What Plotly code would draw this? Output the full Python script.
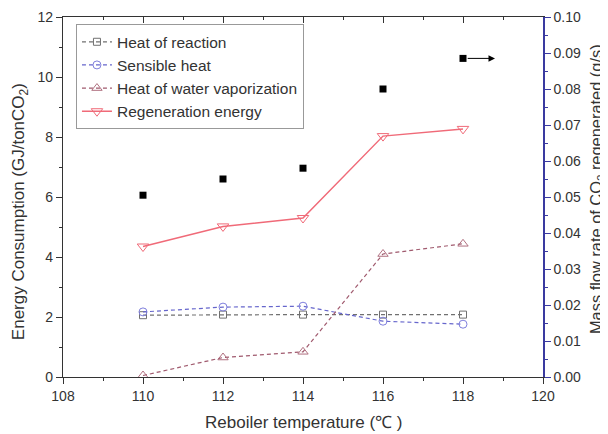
import plotly.graph_objects as go

temps = [110, 112, 114, 116, 118]
heat_reaction = [2.06, 2.08, 2.08, 2.08, 2.08]
sensible_heat = [2.17, 2.33, 2.36, 1.86, 1.76]
water_vap = [0.05, 0.65, 0.84, 4.10, 4.44]
regen_energy = [4.35, 5.02, 5.30, 8.03, 8.27]
mass_flow = [0.0505, 0.055, 0.058, 0.080, 0.0885]

FONT = "Arial, Liberation Sans, sans-serif"
TXT = "#333333"
DASH = "4px,3px"

fig = go.Figure()

fig.add_trace(go.Scatter(
    x=temps, y=heat_reaction, name="Heat of reaction", mode="lines+markers",
    line=dict(color="#707070", dash=DASH, width=1.2),
    marker=dict(symbol="square-open", size=7, color="#707070", line=dict(width=1))))
fig.add_trace(go.Scatter(
    x=temps, y=sensible_heat, name="Sensible heat", mode="lines+markers",
    line=dict(color="#6666cc", dash=DASH, width=1.2),
    marker=dict(symbol="circle-open", size=8, color="#8080dd", line=dict(width=1))))
fig.add_trace(go.Scatter(
    x=temps, y=water_vap, name="Heat of water vaporization", mode="lines+markers",
    line=dict(color="#a05a6e", dash=DASH, width=1.2),
    marker=dict(symbol="triangle-up-open", size=9, color="#b07080", line=dict(width=1))))
fig.add_trace(go.Scatter(
    x=temps, y=regen_energy, name="Regeneration energy", mode="lines+markers",
    line=dict(color="#f06a78", width=1.5),
    marker=dict(symbol="triangle-down-open", size=10, color="#f06a78", line=dict(width=1))))
fig.add_trace(go.Scatter(
    x=temps, y=mass_flow, name="Mass flow rate", mode="markers", yaxis="y2",
    marker=dict(symbol="square", size=7, color="black"), showlegend=False))
# invisible trace to activate the top axis
fig.add_trace(go.Scatter(x=[temps[0]], y=[regen_energy[0]], xaxis="x2", mode="markers",
                         marker=dict(opacity=0), showlegend=False, hoverinfo="skip"))

# arrow pointing to the right axis from the last mass flow point
fig.add_annotation(x=temps[-1] + 0.8, y=mass_flow[-1], xref="x", yref="y2",
                   ax=temps[-1] + 0.08, ay=mass_flow[-1], axref="x", ayref="y2",
                   showarrow=True, arrowhead=2, arrowsize=1.3, arrowwidth=1,
                   arrowcolor="black", text="", standoff=0, startstandoff=0)

# axis titles as annotations
fig.add_annotation(text="Reboiler temperature (℃ )", xref="paper", yref="paper",
                   x=0.5, y=-0.125, yanchor="middle", showarrow=False,
                   font=dict(family=FONT, size=17, color=TXT))
fig.add_annotation(text="Energy Consumption (GJ/tonCO<sub>2</sub>)", xref="paper", yref="paper",
                   x=-0.088, y=0.46, xanchor="center", yanchor="middle", textangle=-90,
                   showarrow=False, font=dict(family=FONT, size=17, color=TXT))
fig.add_annotation(text="Mass flow rate of CO<sub>2</sub> regenerated (g/s)", xref="paper",
                   yref="paper", x=1.1125, y=0.522, xanchor="center", yanchor="middle",
                   textangle=-90, showarrow=False, font=dict(family=FONT, size=16.4, color=TXT))

axis_common = dict(showgrid=False, zeroline=False, showline=True, linecolor="#333333",
                   linewidth=1.2, ticks="outside", ticklen=6, tickwidth=1.2,
                   tickcolor="#333333", automargin=False,
                   tickfont=dict(family=FONT, size=14, color=TXT))

# the page body adds an 8px offset, so the figure is 8px smaller than the window
fig.update_layout(
    width=600, height=426,
    margin=dict(l=55, r=65, t=9, b=57),
    plot_bgcolor="white", paper_bgcolor="white",
    font=dict(family=FONT, color=TXT),
    xaxis=dict(range=[108, 120], dtick=2, tick0=108,
               minor=dict(dtick=1, ticklen=3, tickcolor="#333333", ticks="outside"),
               **axis_common),
    xaxis2=dict(range=[108, 120], overlaying="x", side="top", showgrid=False, zeroline=False,
                showline=True, linecolor="#333333", linewidth=1.2, ticks="inside", ticklen=6,
                tickwidth=1.2, tickcolor="#333333", dtick=2, tick0=108, showticklabels=False,
                automargin=False,
                minor=dict(dtick=1, ticklen=3, tickcolor="#333333", ticks="inside")),
    yaxis=dict(range=[0, 12], dtick=2,
               minor=dict(dtick=1, ticklen=3, tickcolor="#333333", ticks="outside"),
               **axis_common),
    yaxis2=dict(range=[0, 0.1], dtick=0.01, tickformat=".2f", overlaying="y", side="right",
                showgrid=False, zeroline=False, showline=True, linecolor="#3a3aa0", linewidth=1.5,
                ticks="outside", ticklen=6, tickwidth=1.2, tickcolor="#3a3aa0", automargin=False,
                minor=dict(dtick=0.005, ticklen=3, tickcolor="#3a3aa0", ticks="outside"),
                tickfont=dict(family=FONT, size=14, color=TXT)),
    legend=dict(x=0.027, y=0.98, xanchor="left", yanchor="top",
                bordercolor="#999999", borderwidth=1, bgcolor="white",
                font=dict(family=FONT, size=15.5, color=TXT), tracegroupgap=0,
                itemwidth=30),
)

fig.write_html("out.html")
